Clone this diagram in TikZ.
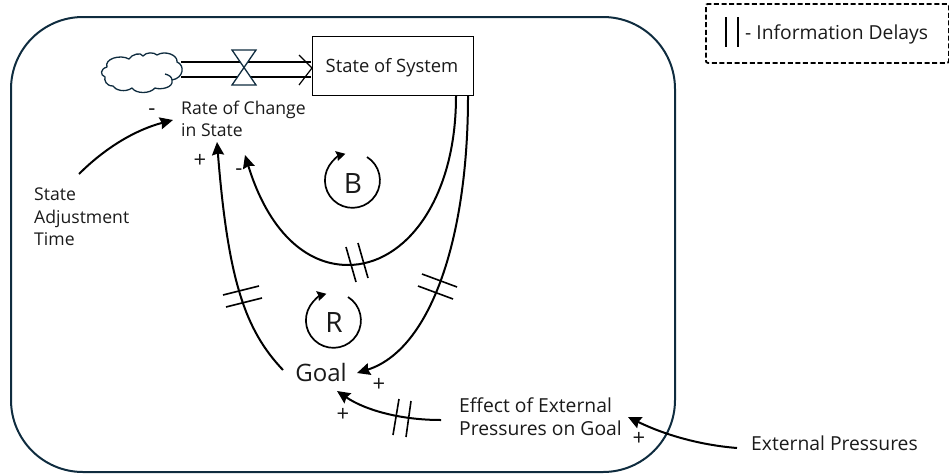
\documentclass[tikz,border=0pt]{standalone}
\usepackage{fontspec}
\setmainfont{Open Sans}
\usetikzlibrary{arrows.meta,calc}
\definecolor{navy}{HTML}{0F2C3F}
\definecolor{ink}{HTML}{1A1A1A}
\tikzset{
  lbl/.style={font=\fontsize{17.6}{22.5}\selectfont,text=ink,inner sep=0pt,align=left},
  lblb/.style={font=\fontsize{19.3}{23}\selectfont,text=ink,inner sep=0pt,align=left},
  sign/.style={font=\fontsize{22}{22}\selectfont,text=ink,inner sep=0pt},
  link/.style={line width=2pt,black,-{Stealth[length=13pt,width=12pt,inset=1.5pt]}},
  tick/.style={line width=1.6pt,black},
  loopline/.style={line width=1.7pt,black,-{Stealth[length=9pt,width=10pt,inset=1pt]}},
}
\begin{document}
\begin{tikzpicture}[x=1pt,y=-1pt]
\useasboundingbox (0,0) rectangle (949,474);
% boundary
\node[draw=navy,line width=2pt,rounded corners=72pt,minimum width=664pt,minimum height=455pt,inner sep=0pt,anchor=north west] (frame) at (10,16) {};
% legend
\node[draw=black,line width=1.8pt,dash pattern=on 5pt off 2.6pt,rounded corners=2pt,minimum width=243pt,minimum height=59pt,inner sep=0pt,anchor=north west] (legend) at (705,3) {};
\node[lblb,anchor=west] (legendtext) at (745,34) {- Information Delays};
\draw[line width=2pt] ($(legend.north west)+(21,14)$) -- ++(0,30);
\draw[line width=2pt] ($(legend.north west)+(33,14)$) -- ++(0,30);
% stock and flow
\node[draw=black,line width=1.2pt,minimum width=161pt,minimum height=59pt,inner sep=0pt,anchor=north west,fill=white] (state) at (312,36) {};
\node[font=\fontsize{18.4}{22}\selectfont,text=ink,inner sep=0pt] (statetext) at (392,68) {State of System};
\draw[navy,line width=1.3pt,line join=round]
  (107,67) .. controls (104,59) and (120,54) .. (129,59)
  .. controls (132,54) and (141,52) .. (143,56)
  .. controls (146,52) and (154,52) .. (157,55)
  .. controls (165,50) and (178,55) .. (177,62)
  .. controls (185,65) and (184,78) .. (172,80)
  .. controls (174,88) and (160,90) .. (155,88)
  .. controls (150,94) and (136,94) .. (132,88)
  .. controls (125,93) and (115,90) .. (113,86)
  .. controls (106,86) and (104,80) .. (105,77)
  .. controls (100,75) and (100,69) .. (107,67) -- cycle;
\draw[navy,line width=1.3pt] (165,74) .. controls (169,75) and (172,77) .. (172,80);
\coordinate (cloudedge) at (181,69);
\coordinate (valve) at (244,68);
\draw[line width=1.2pt,black] (cloudedge |- 0,62) -- (311,62);
\draw[line width=1.2pt,black] (cloudedge |- 0,77) -- (311,77);
\draw[line width=1.2pt,black] (299,55) -- (state.west |- valve) -- (299,85);
\draw[line width=1.3pt,navy,fill=white] ($(valve)+(-12,-18)$) -- ($(valve)+(12,-18)$) -- ($(valve)+(-12,17)$) -- ($(valve)+(12,17)$) -- cycle;
% labels
\node[lbl,anchor=north west] (rate) at (181,100.5) {Rate of Change\\in State};
\node[lbl,anchor=north west] (sat) at (34,188) {State\\Adjustment\\Time};
\node[font=\fontsize{24}{24}\selectfont,text=ink,inner sep=0pt] (goal) at (321,372) {Goal};
\node[lblb,anchor=north west] (effect) at (459,398) {Effect of External\\Pressures on Goal};
\node[lblb,anchor=west] (ext) at (751,443) {External Pressures};
% connectors
\draw[link] ($(sat.north west)+(45,-14)$) .. controls (105,148) and (135,130) .. ($(rate.north west)+(-8,19.5)$);
\draw[link] ($(goal)+(-38,-2)$) .. controls (245,330) and (228,280) .. ($(rate.north west)+(36,41.5)$);
\draw[link] ($(state.south west)+(144,0)$) .. controls (456,200) and (405,265) .. (348,265) .. controls (305,265) and (268,230) .. ($(rate.north west)+(64,54.5)$);
\draw[link] ($(state.south west)+(156,0)$) .. controls (468,240) and (430,350) .. ($(goal)+(36,1)$);
\draw[link] ($(effect.north west)+(-18,22)$) .. controls (400,420) and (365,410) .. ($(goal)+(16,19)$);
\draw[link] ($(ext.west)+(-14,5)$) .. controls (700,445) and (665,435) .. ($(effect.north west)+(169,19)$);
% delay ticks
\draw[tick] (346,247) -- (356,282);
\draw[tick] (358,243) -- (368,278);
\draw[tick] (223,295) -- (259,286);
\draw[tick] (226,307) -- (262,298);
\draw[tick] (422,274) -- (457,287);
\draw[tick] (418,286) -- (453,299);
\draw[tick] (399,399) -- (393,435);
\draw[tick] (411,401) -- (406,437);
% loops
\node[font=\fontsize{28}{28}\selectfont,text=ink,inner sep=0pt] (B) at (353,184) {B};
\node[font=\fontsize{28}{28}\selectfont,text=ink,inner sep=0pt] (R) at (334,322) {R};
\draw[loopline] (367,157) arc[start angle=58,end angle=-255,radius=27.5pt];
\draw[loopline] (348,297) arc[start angle=58,end angle=-255,radius=27.5pt];
% signs
\node[sign] (s1) at (152,112) {-};
\node[sign] (s2) at (200,161) {+};
\node[sign] (s3) at (239,172) {-};
\node[sign] (s4) at (379,385) {+};
\node[sign] (s5) at (343,415) {+};
\node[sign] (s6) at (639,439) {+};
\end{tikzpicture}
\end{document}
